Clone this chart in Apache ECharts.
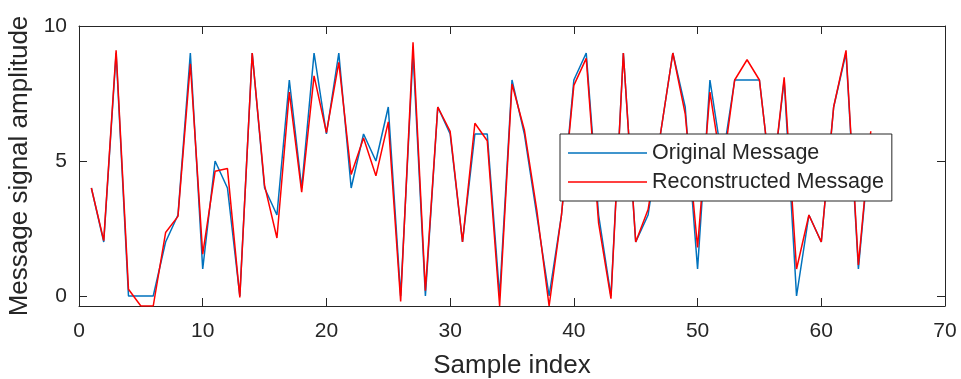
<!DOCTYPE html>
<html>
<head>
<meta charset="utf-8">
<script src="https://cdn.jsdelivr.net/npm/echarts@6/dist/echarts.min.js"></script>
<style>
html,body{margin:0;padding:0;background:#fff;}
#chart{width:961px;height:379px;}
</style>
</head>
<body>
<div id="chart"></div>
<script>
const sampleIndex = [1,2,3,4,5,6,7,8,9,10,11,12,13,14,15,16,17,18,19,20,21,22,23,24,25,26,27,28,29,30,31,32,33,34,35,36,37,38,39,40,41,42,43,44,45,46,47,48,49,50,51,52,53,54,55,56,57,58,59,60,61,62,63,64];
const originalMessage = [4,2,9,0,0,0,2,3,9,1,5,4,0,9,4,3,8,4,9,6,9,4,6,5,7,0,9,0,7,6,2,6,6,0,8,6,3,0,3,8,9,3,0,9,2,3,6,9,7,1,8,5,8,8,8,4,8,0,3,2,7,9,1,6];
const reconstructedMessage = [4,2.05,9.1,0.25,-0.37,-0.37,2.35,2.95,8.6,1.55,4.62,4.72,-0.05,9,4.1,2.15,7.55,3.85,8.15,6.05,8.65,4.5,5.85,4.45,6.45,-0.2,9.4,0.2,7,6.1,2,6.4,5.75,-0.37,7.85,6.15,3.2,-0.37,3,7.8,8.8,2.7,-0.1,9,2,3.2,6,9,6.75,1.8,7.55,4.6,8,8.75,8,4,8.1,1,3,2,7,9.1,1.15,6.1];
const seriesNames = ['Original Message', 'Reconstructed Message'];
const xTicks = [0,10,20,30,40,50,60,70];
const yTicks = [0,5,10];
const xRange = [0,70];
const yRange = [-0.37,10];

const axisColor = '#262626';
const font = "'Liberation Sans', Arial, Helvetica, sans-serif";

function pairs(xs, ys){ return xs.map((x,i)=>[x, ys[i]]); }

const chart = echarts.init(document.getElementById('chart'), null, {renderer:'canvas'});
const lineCommon = {color: axisColor, width: 1};
chart.setOption({
  animation: false,
  backgroundColor: '#fff',
  textStyle: {fontFamily: font},
  grid: {left: 79, top: 26, width: 866, height: 280, containLabel: false, outerBoundsMode: 'none'},
  legend: {
    data: seriesNames,
    orient: 'vertical',
    left: 560, top: 134,
    padding: [8, 8, 8, 8],
    icon: 'rect',
    itemWidth: 79, itemHeight: 1.5, itemGap: 7,
    backgroundColor: '#fff',
    borderColor: axisColor, borderWidth: 1, borderRadius: 0,
    textStyle: {fontSize: 21.5, color: axisColor, fontFamily: font, lineHeight: 21},
    z: 10
  },
  xAxis: [{
    type: 'value', position: 'bottom', min: xRange[0], max: xRange[1],
    axisLine: {show: true, onZero: false, lineStyle: lineCommon},
    axisTick: {show: true, inside: true, length: 8, lineStyle: lineCommon, customValues: xTicks},
    axisLabel: {show: true, fontSize: 21, color: axisColor, margin: 15, customValues: xTicks, fontFamily: font},
    splitLine: {show: false},
    name: 'Sample index', nameLocation: 'middle', nameGap: 47,
    nameTextStyle: {fontSize: 26, color: axisColor, fontFamily: font}
  },{
    type: 'value', position: 'top', min: xRange[0], max: xRange[1],
    axisLine: {show: true, onZero: false, lineStyle: lineCommon},
    axisTick: {show: true, inside: true, length: 8, lineStyle: lineCommon, customValues: xTicks},
    axisLabel: {show: false},
    splitLine: {show: false}
  }],
  yAxis: [{
    type: 'value', position: 'left', min: yRange[0], max: yRange[1],
    axisLine: {show: true, onZero: false, lineStyle: lineCommon},
    axisTick: {show: true, inside: true, length: 8, lineStyle: lineCommon, customValues: yTicks},
    axisLabel: {show: true, fontSize: 21, color: axisColor, margin: 12, customValues: yTicks, fontFamily: font},
    splitLine: {show: false},
    name: 'Message signal amplitude', nameLocation: 'middle', nameGap: 34,
    nameTextStyle: {fontSize: 26, color: axisColor, fontFamily: font}
  },{
    type: 'value', position: 'right', min: yRange[0], max: yRange[1],
    axisLine: {show: true, onZero: false, lineStyle: lineCommon},
    axisTick: {show: true, inside: true, length: 8, lineStyle: lineCommon, customValues: yTicks},
    axisLabel: {show: false},
    splitLine: {show: false}
  }],
  series: [{
    name: seriesNames[0], type: 'line', xAxisIndex: 0, yAxisIndex: 0,
    data: pairs(sampleIndex, originalMessage),
    symbol: 'none', showSymbol: false,
    lineStyle: {color: '#0072BD', width: 1.5},
    itemStyle: {color: '#0072BD'},
    z: 2
  },{
    name: seriesNames[1], type: 'line', xAxisIndex: 0, yAxisIndex: 0,
    data: pairs(sampleIndex, reconstructedMessage),
    symbol: 'none', showSymbol: false,
    lineStyle: {color: '#FF0000', width: 1.5},
    itemStyle: {color: '#FF0000'},
    z: 3
  }]
});
</script>
</body>
</html>
